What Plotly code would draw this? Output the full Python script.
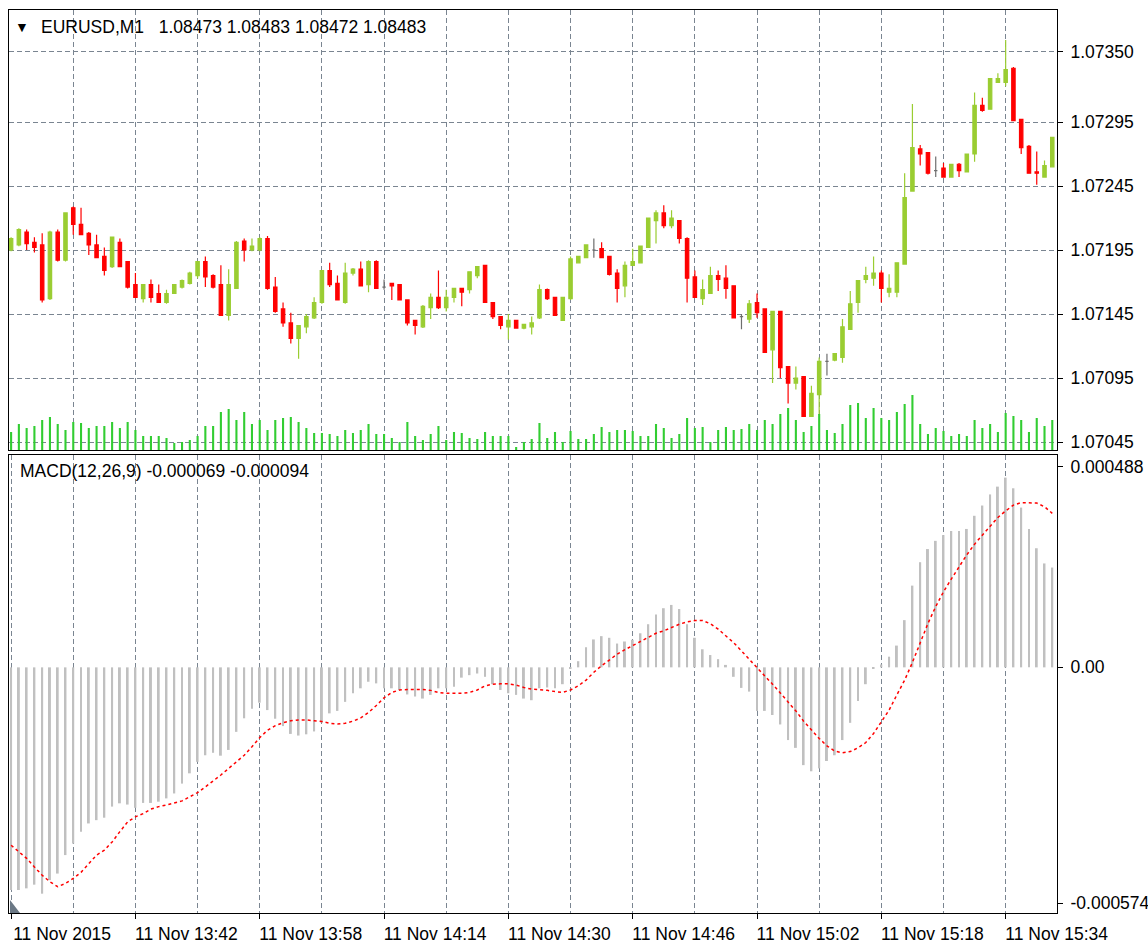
import plotly.graph_objects as go

# ---------------- data (EURUSD M1, 11 Nov 2015, 13:26 .. 15:40) ----------------
open_ = [1.07195, 1.07199, 1.07209, 1.07201, 1.07199, 1.07157, 1.07209, 1.07187, 1.07228, 1.07215,
         1.07208, 1.07199, 1.07190, 1.07182, 1.07201, 1.07186, 1.07168, 1.07157, 1.07168, 1.07161,
         1.07154, 1.07161, 1.07166, 1.07169, 1.07175, 1.07186, 1.07175, 1.07168, 1.07144, 1.07165,
         1.07202, 1.07195, 1.07195, 1.07204, 1.07166, 1.07149, 1.07138, 1.07126, 1.07135, 1.07142,
         1.07154, 1.07179, 1.07169, 1.07154, 1.07177, 1.07180, 1.07168, 1.07186, 1.07166, 1.07169,
         1.07168, 1.07156, 1.07140, 1.07135, 1.07150, 1.07158, 1.07150, 1.07158, 1.07165, 1.07164,
         1.07175, 1.07183, 1.07154, 1.07143, 1.07135, 1.07140, 1.07134, 1.07135, 1.07142, 1.07164,
         1.07158, 1.07140, 1.07157, 1.07185, 1.07189, 1.07195, 1.07196, 1.07190, 1.07177, 1.07167,
         1.07183, 1.07185, 1.07197, 1.07218, 1.07224, 1.07214, 1.07218, 1.07204, 1.07174, 1.07157,
         1.07161, 1.07175, 1.07173, 1.07167, 1.07143, 1.07141, 1.07154, 1.07149, 1.07117, 1.07147,
         1.07104, 1.07091, 1.07096, 1.07065, 1.07082, 1.07108, 1.07109, 1.07111, 1.07133, 1.07154,
         1.07172, 1.07173, 1.07177, 1.07162, 1.07162, 1.07184, 1.07241, 1.07274, 1.07271, 1.07257,
         1.07259, 1.07252, 1.07262, 1.07256, 1.07270, 1.07308, 1.07305, 1.07326, 1.07326, 1.07337,
         1.07297, 1.07276, 1.07256, 1.07252, 1.07260]
high = [1.07205, 1.07212, 1.07211, 1.07205, 1.07208, 1.07210, 1.07211, 1.07224, 1.07229, 1.07228,
        1.07209, 1.07207, 1.07197, 1.07205, 1.07204, 1.07186, 1.07177, 1.07168, 1.07172, 1.07168,
        1.07164, 1.07168, 1.07172, 1.07178, 1.07186, 1.07190, 1.07176, 1.07183, 1.07180, 1.07202,
        1.07204, 1.07204, 1.07205, 1.07206, 1.07174, 1.07154, 1.07146, 1.07136, 1.07145, 1.07158,
        1.07179, 1.07185, 1.07175, 1.07185, 1.07181, 1.07186, 1.07187, 1.07187, 1.07172, 1.07169,
        1.07168, 1.07156, 1.07140, 1.07152, 1.07161, 1.07179, 1.07164, 1.07165, 1.07165, 1.07178,
        1.07182, 1.07183, 1.07154, 1.07143, 1.07145, 1.07140, 1.07137, 1.07143, 1.07168, 1.07165,
        1.07158, 1.07158, 1.07190, 1.07190, 1.07199, 1.07204, 1.07201, 1.07190, 1.07180, 1.07186,
        1.07196, 1.07198, 1.07220, 1.07226, 1.07230, 1.07226, 1.07218, 1.07205, 1.07179, 1.07172,
        1.07182, 1.07179, 1.07183, 1.07167, 1.07145, 1.07156, 1.07161, 1.07149, 1.07147, 1.07147,
        1.07104, 1.07104, 1.07096, 1.07089, 1.07111, 1.07114, 1.07114, 1.07141, 1.07163, 1.07171,
        1.07182, 1.07190, 1.07179, 1.07176, 1.07185, 1.07255, 1.07309, 1.07277, 1.07271, 1.07268,
        1.07263, 1.07262, 1.07263, 1.07270, 1.07318, 1.07314, 1.07329, 1.07333, 1.07359, 1.07338,
        1.07297, 1.07277, 1.07272, 1.07265, 1.07283]
low = [1.07194, 1.07198, 1.07195, 1.07193, 1.07154, 1.07156, 1.07186, 1.07186, 1.07207, 1.07207,
       1.07191, 1.07189, 1.07175, 1.07181, 1.07182, 1.07165, 1.07158, 1.07154, 1.07154, 1.07154,
       1.07153, 1.07161, 1.07165, 1.07168, 1.07173, 1.07166, 1.07165, 1.07144, 1.07140, 1.07165,
       1.07186, 1.07194, 1.07194, 1.07164, 1.07146, 1.07135, 1.07122, 1.07110, 1.07130, 1.07141,
       1.07153, 1.07166, 1.07156, 1.07153, 1.07175, 1.07167, 1.07162, 1.07165, 1.07164, 1.07156,
       1.07156, 1.07136, 1.07129, 1.07134, 1.07141, 1.07149, 1.07147, 1.07154, 1.07151, 1.07161,
       1.07173, 1.07154, 1.07141, 1.07133, 1.07125, 1.07134, 1.07133, 1.07129, 1.07141, 1.07156,
       1.07144, 1.07140, 1.07156, 1.07185, 1.07189, 1.07189, 1.07189, 1.07175, 1.07154, 1.07158,
       1.07183, 1.07185, 1.07197, 1.07200, 1.07212, 1.07212, 1.07200, 1.07154, 1.07158, 1.07152,
       1.07161, 1.07163, 1.07157, 1.07142, 1.07133, 1.07138, 1.07142, 1.07115, 1.07091, 1.07095,
       1.07075, 1.07086, 1.07065, 1.07065, 1.07066, 1.07097, 1.07108, 1.07107, 1.07133, 1.07146,
       1.07169, 1.07167, 1.07154, 1.07158, 1.07158, 1.07184, 1.07241, 1.07261, 1.07254, 1.07252,
       1.07252, 1.07252, 1.07252, 1.07256, 1.07264, 1.07303, 1.07305, 1.07326, 1.07323, 1.07296,
       1.07270, 1.07255, 1.07246, 1.07252, 1.07260]
close = [1.07204, 1.07211, 1.07200, 1.07197, 1.07156, 1.07209, 1.07187, 1.07224, 1.07215, 1.07207,
         1.07199, 1.07189, 1.07179, 1.07205, 1.07182, 1.07166, 1.07158, 1.07168, 1.07158, 1.07154,
         1.07161, 1.07168, 1.07171, 1.07177, 1.07186, 1.07174, 1.07166, 1.07144, 1.07168, 1.07201,
         1.07195, 1.07198, 1.07204, 1.07165, 1.07147, 1.07138, 1.07126, 1.07136, 1.07143, 1.07154,
         1.07179, 1.07168, 1.07156, 1.07177, 1.07180, 1.07167, 1.07186, 1.07165, 1.07166, 1.07167,
         1.07156, 1.07138, 1.07136, 1.07151, 1.07158, 1.07150, 1.07158, 1.07165, 1.07162, 1.07178,
         1.07182, 1.07154, 1.07143, 1.07136, 1.07140, 1.07134, 1.07137, 1.07138, 1.07164, 1.07157,
         1.07144, 1.07158, 1.07188, 1.07190, 1.07199, 1.07195, 1.07189, 1.07176, 1.07165, 1.07183,
         1.07186, 1.07198, 1.07220, 1.07224, 1.07214, 1.07220, 1.07204, 1.07173, 1.07158, 1.07164,
         1.07175, 1.07172, 1.07165, 1.07142, 1.07143, 1.07153, 1.07146, 1.07115, 1.07147, 1.07103,
         1.07091, 1.07095, 1.07065, 1.07083, 1.07108, 1.07108, 1.07114, 1.07135, 1.07153, 1.07171,
         1.07175, 1.07177, 1.07165, 1.07165, 1.07185, 1.07236, 1.07275, 1.07270, 1.07255, 1.07257,
         1.07252, 1.07262, 1.07257, 1.07270, 1.07308, 1.07304, 1.07329, 1.07329, 1.07336, 1.07296,
         1.07275, 1.07255, 1.07255, 1.07261, 1.07283]
volume = [18, 26, 22, 24, 30, 33, 26, 20, 28, 27, 22, 24, 24, 28, 22, 28, 20, 14, 14, 14,
          12, 7, 8, 10, 14, 24, 24, 38, 41, 30, 38, 26, 30, 20, 30, 32, 33, 28, 22, 17,
          17, 16, 14, 20, 17, 20, 26, 16, 16, 12, 8, 28, 14, 10, 16, 24, 10, 18, 17, 12,
          11, 18, 14, 14, 14, 3, 8, 11, 27, 12, 18, 8, 19, 11, 11, 16, 23, 18, 20, 20,
          19, 14, 14, 26, 22, 12, 16, 32, 22, 23, 8, 20, 23, 20, 21, 26, 20, 30, 26, 36,
          42, 30, 18, 24, 36, 20, 17, 26, 45, 47, 32, 42, 32, 30, 38, 46, 55, 26, 16, 22,
          19, 14, 16, 14, 30, 22, 26, 18, 37, 34, 30, 18, 32, 24, 30]
macd_main = [-0.000542, -0.000542, -0.000538, -0.000529, -0.000551, -0.000518, -0.000502, -0.000457, -0.000429, -0.000400,
             -0.000380, -0.000372, -0.000366, -0.000339, -0.000331, -0.000334, -0.000342, -0.000330, -0.000330, -0.000327,
             -0.000319, -0.000307, -0.000283, -0.000258, -0.000230, -0.000214, -0.000208, -0.000215, -0.000201, -0.000157,
             -0.000124, -0.000101, -0.000086, -0.000104, -0.000125, -0.000143, -0.000162, -0.000166, -0.000163, -0.000156,
             -0.000134, -0.000112, -0.000106, -0.000084, -0.000063, -0.000051, -0.000035, -0.000039, -0.000051, -0.000051,
             -0.000055, -0.000066, -0.000071, -0.000076, -0.000067, -0.000051, -0.000051, -0.000047, -0.000025, -0.000019,
             -0.000015, -0.000023, -0.000041, -0.000055, -0.000063, -0.000067, -0.000076, -0.000080, -0.000051, -0.000049,
             -0.000051, -0.000041, -0.000002, 0.000015, 0.000049, 0.000068, 0.000076, 0.000072, 0.000058, 0.000063,
             0.000067, 0.000083, 0.000105, 0.000129, 0.000144, 0.000152, 0.000142, 0.000105, 0.000072, 0.000044,
             0.000030, 0.000020, 0.000006, -0.000023, -0.000050, -0.000059, -0.000106, -0.000106, -0.000116, -0.000139,
             -0.000177, -0.000196, -0.000238, -0.000253, -0.000246, -0.000228, -0.000214, -0.000177, -0.000135, -0.000082,
             -0.000041, -0.000004, 0.000007, 0.000026, 0.000053, 0.000115, 0.000199, 0.000256, 0.000288, 0.000308,
             0.000322, 0.000332, 0.000332, 0.000337, 0.000369, 0.000394, 0.000421, 0.000440, 0.000462, 0.000436,
             0.000389, 0.000337, 0.000290, 0.000253, 0.000243]
macd_signal = [-0.000433, -0.000449, -0.000465, -0.000486, -0.000506, -0.000522, -0.000534, -0.000526, -0.000514, -0.000499,
               -0.000477, -0.000457, -0.000445, -0.000425, -0.000400, -0.000376, -0.000364, -0.000356, -0.000345, -0.000339,
               -0.000335, -0.000330, -0.000325, -0.000315, -0.000305, -0.000291, -0.000277, -0.000262, -0.000246, -0.000230,
               -0.000214, -0.000193, -0.000171, -0.000153, -0.000142, -0.000135, -0.000130, -0.000128, -0.000128, -0.000130,
               -0.000132, -0.000136, -0.000138, -0.000136, -0.000131, -0.000123, -0.000110, -0.000093, -0.000074, -0.000061,
               -0.000055, -0.000054, -0.000054, -0.000054, -0.000056, -0.000061, -0.000063, -0.000063, -0.000063, -0.000061,
               -0.000055, -0.000045, -0.000041, -0.000040, -0.000040, -0.000043, -0.000049, -0.000053, -0.000054, -0.000056,
               -0.000059, -0.000061, -0.000055, -0.000045, -0.000031, -0.000012, 0.000004, 0.000019, 0.000032, 0.000043,
               0.000053, 0.000064, 0.000075, 0.000083, 0.000089, 0.000097, 0.000105, 0.000111, 0.000114, 0.000114,
               0.000106, 0.000093, 0.000076, 0.000060, 0.000040, 0.000019, 0.000000, -0.000021, -0.000041, -0.000062,
               -0.000084, -0.000106, -0.000131, -0.000153, -0.000173, -0.000191, -0.000204, -0.000208, -0.000205, -0.000196,
               -0.000183, -0.000161, -0.000132, -0.000104, -0.000067, -0.000031, 0.000012, 0.000058, 0.000107, 0.000148,
               0.000184, 0.000215, 0.000245, 0.000274, 0.000300, 0.000322, 0.000345, 0.000365, 0.000381, 0.000395,
               0.000401, 0.000401, 0.000400, 0.000391, 0.000375]

time_tick_bars = [0, 16, 32, 48, 64, 80, 96, 112, 128]
time_tick_text = ["11 Nov 2015", "11 Nov 13:42", "11 Nov 13:58", "11 Nov 14:14", "11 Nov 14:30",
                  "11 Nov 14:46", "11 Nov 15:02", "11 Nov 15:18", "11 Nov 15:34"]
grid_bars = [8, 16, 24, 32, 40, 48, 56, 64, 72, 80, 88, 96, 104, 112, 120, 128]
price_ticks = [1.07350, 1.07295, 1.07245, 1.07195, 1.07145, 1.07095, 1.07045]
macd_ticks = [0.000488, 0.0, -0.000574]
macd_tick_text = ["0.000488", "0.00", "-0.000574"]

header = "EURUSD,M1\u00a0\u00a0 1.08473 1.08483 1.08472 1.08483"
macd_label = "MACD(12,26,9) -0.000069 -0.000094"

n = len(close)
assert len(open_) == n and len(high) == n and len(low) == n and len(volume) == n
assert len(macd_main) == n and len(macd_signal) == n
bars = list(range(n))

# ---------------- styling ----------------
FONT = "Liberation Sans"
GRID = "#7a8591"
GRID_DASH = "5px,3px"
BULL = "#9ACD32"
BEAR = "#FF0000"
DOJI = "#6e6e6e"

W, H = 1148, 943
ML, MR, MT, MB = 9, 91, 10, 30
plot_w = W - ML - MR
px_per_bar = 7.77
x_start = -(11.1 - ML) / px_per_bar
x_range = [x_start, x_start + plot_w / px_per_bar]

fig = go.Figure()

# volumes (overlay axis in the price panel)
fig.add_trace(go.Bar(x=bars, y=volume, width=0.27, marker=dict(color="#32CD32", line=dict(width=0)),
                     xaxis="x", yaxis="y3", hoverinfo="skip"))

normal = [i for i in bars if open_[i] != close[i]]
doji = [i for i in bars if open_[i] == close[i]]

fig.add_trace(go.Candlestick(
    x=normal, open=[open_[i] for i in normal], high=[high[i] for i in normal],
    low=[low[i] for i in normal], close=[close[i] for i in normal],
    increasing=dict(line=dict(color=BULL, width=1.2), fillcolor=BULL),
    decreasing=dict(line=dict(color=BEAR, width=1.2), fillcolor=BEAR),
    whiskerwidth=0, xaxis="x", yaxis="y", hoverinfo="skip"))
fig.add_trace(go.Candlestick(
    x=doji, open=[open_[i] for i in doji], high=[high[i] for i in doji],
    low=[low[i] for i in doji], close=[close[i] for i in doji],
    increasing=dict(line=dict(color=DOJI, width=1.2), fillcolor=DOJI),
    decreasing=dict(line=dict(color=DOJI, width=1.2), fillcolor=DOJI),
    whiskerwidth=0, xaxis="x", yaxis="y", hoverinfo="skip"))

# MACD histogram + signal
fig.add_trace(go.Bar(x=bars, y=macd_main, width=0.25, marker=dict(color="#C0C0C0", line=dict(width=0)),
                     xaxis="x2", yaxis="y2", hoverinfo="skip"))
fig.add_trace(go.Scatter(x=bars, y=macd_signal, mode="lines",
                         line=dict(color="#FF0000", width=1.5, dash="3px,3px"),
                         xaxis="x2", yaxis="y2", hoverinfo="skip"))

plot_h = H - MT - MB
main_bottom = (H - MB - 450) / plot_h
macd_top = (H - MB - 455) / plot_h

axis_common = dict(showline=True, mirror=True, linecolor="black", linewidth=1, zeroline=False,
                   fixedrange=True, automargin=False)

fig.update_layout(
    width=W, height=H,
    margin=dict(l=ML, r=MR, t=MT, b=MB, pad=0, autoexpand=False),
    paper_bgcolor="white", plot_bgcolor="white",
    showlegend=False,
    boxgap=0.38,
    font=dict(family=FONT, size=17.5, color="black"),
    xaxis=dict(domain=[0, 1], anchor="y", range=x_range, tickmode="array", tickvals=grid_bars,
               showticklabels=False, ticks="", showgrid=True, gridcolor=GRID, griddash=GRID_DASH,
               gridwidth=1.3, rangeslider=dict(visible=False), **axis_common),
    yaxis=dict(domain=[main_bottom, 1], anchor="x", side="right",
               range=[1.0703875, 1.073825], tickmode="array", tickvals=price_ticks,
               ticktext=[f"{p:.5f}" for p in price_ticks], ticks="outside", ticklen=5,
               tickcolor="black", ticklabelstandoff=4, showgrid=True, gridcolor=GRID,
               griddash=GRID_DASH, gridwidth=1.3, **axis_common),
    yaxis3=dict(overlaying="y", range=[0, 440], visible=False, fixedrange=True, automargin=False),
    xaxis2=dict(domain=[0, 1], anchor="y2", matches="x", range=x_range, tickmode="array",
                tickvals=time_tick_bars, ticktext=time_tick_text, ticks="outside", ticklen=5,
                tickcolor="black", ticklabelshift=51, showgrid=True, gridcolor=GRID,
                griddash=GRID_DASH, gridwidth=1.3,
                minor=dict(tickvals=[b for b in grid_bars if b not in time_tick_bars], showgrid=True,
                           gridcolor=GRID, griddash=GRID_DASH, gridwidth=1.3, ticks=""),
                **axis_common),
    yaxis2=dict(domain=[0, macd_top], anchor="x2", side="right", range=[-0.000598, 0.000517],
                tickmode="array", tickvals=macd_ticks, ticktext=macd_tick_text, ticks="outside",
                ticklen=5, tickcolor="black", ticklabelstandoff=4, showgrid=False, **axis_common),
)

def px_x(p):
    return (p - ML) / plot_w

def px_y(p):
    return (H - MB - p) / plot_h

fig.add_annotation(text="\u25BC", xref="paper", yref="paper", x=px_x(21.5), y=px_y(27),
                   xanchor="center", yanchor="middle", showarrow=False, font=dict(size=14, color="black"))
fig.add_annotation(text=header, xref="paper", yref="paper", x=px_x(39), y=px_y(27),
                   xanchor="left", yanchor="middle", showarrow=False)
fig.add_annotation(text=macd_label, xref="paper", yref="paper", x=px_x(18), y=px_y(471.5),
                   xanchor="left", yanchor="middle", showarrow=False)

# MT4 chart-shift marker in lower-left corner
fig.add_shape(type="path", xref="paper", yref="paper",
              path=f"M {px_x(10)},{px_y(900)} L {px_x(10)},{px_y(913)} L {px_x(20)},{px_y(913)} Z",
              fillcolor="#6b7885", line=dict(width=0))

fig.write_html("out.html", config={"displayModeBar": False},
               post_script="document.body.style.margin='0';document.body.style.overflow='hidden';")
